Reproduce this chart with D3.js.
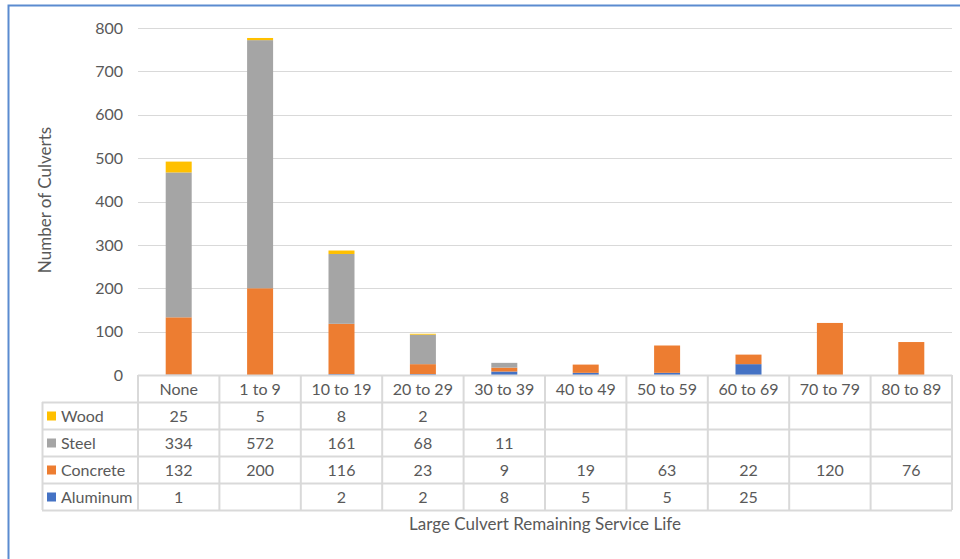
<!DOCTYPE html>
<html>
<head>
<meta charset="utf-8">
<script src="https://cdn.jsdelivr.net/npm/d3@7"></script>
<style>
  html, body { margin: 0; padding: 0; background: #fff; }
  svg { display: block; font-family: Lato, "Open Sans", sans-serif; }
</style>
</head>
<body>
<svg id="chart" width="960" height="559"></svg>
<script>
// Service life bins and counts per culvert material
const categories = ["None", "1 to 9", "10 to 19", "20 to 29", "30 to 39", "40 to 49", "50 to 59", "60 to 69", "70 to 79", "80 to 89"];
const wood     = [25, 5, 8, 2, null, null, null, null, null, null];
const steel    = [334, 572, 161, 68, 11, null, null, null, null, null];
const concrete = [132, 200, 116, 23, 9, 19, 63, 22, 120, 76];
const aluminum = [1, null, 2, 2, 8, 5, 5, 25, null, null];
const yTicks = [0, 100, 200, 300, 400, 500, 600, 700, 800];

// Stacked bottom-to-top: Aluminum, Concrete, Steel, Wood; table lists top-to-bottom
const series = [
  { name: "Aluminum", values: aluminum, color: "#4472C4" },
  { name: "Concrete", values: concrete, color: "#ED7D31" },
  { name: "Steel",    values: steel,    color: "#A5A5A5" },
  { name: "Wood",     values: wood,     color: "#FFC000" }
];

const svg = d3.select("#chart");
const textColor = "#595959";
const gridColor = "#D9D9D9";
const fs = "16px";

// Outer frame
svg.append("rect").attr("x", 8.5).attr("y", 5.5).attr("width", 960).attr("height", 600)
  .attr("fill", "none").attr("stroke", "#5B8BD0").attr("stroke-width", 2);

const plotLeft = 138, plotRight = 952, plotTop = 28, plotBottom = 375;

const x = d3.scaleBand().domain(categories).range([plotLeft, plotRight]).paddingInner(0).paddingOuter(0);
const y = d3.scaleLinear().domain([0, 800]).range([plotBottom, plotTop]);

// Gridlines
svg.append("g").selectAll("line").data(yTicks.filter(t => t > 0)).join("line")
  .attr("x1", plotLeft).attr("x2", plotRight)
  .attr("y1", d => Math.round(y(d)) + 0.5).attr("y2", d => Math.round(y(d)) + 0.5)
  .attr("stroke", gridColor).attr("stroke-width", 1.2);

// Y axis labels
const yAxis = d3.axisLeft(y).tickValues(yTicks).tickSize(0).tickPadding(0);
const gy = svg.append("g").attr("transform", `translate(${plotLeft - 15},0)`).call(yAxis);
gy.select(".domain").remove();
gy.selectAll("text").attr("fill", textColor).style("font-size", fs)
  .style("font-family", "Lato, 'Open Sans', sans-serif");

// Y axis title
svg.append("text").attr("transform", `translate(51,200) rotate(-90)`)
  .attr("text-anchor", "middle").attr("fill", textColor).style("font-size", "17px")
  .text("Number of Culverts");

// Stacked bars
const rows = categories.map((c, i) => {
  const r = { cat: c };
  series.forEach(s => { r[s.name] = s.values[i] || 0; });
  return r;
});
const stacked = d3.stack().keys(series.map(s => s.name))(rows);
const barW = 26;
svg.append("g").selectAll("g").data(stacked).join("g")
  .attr("fill", (d, i) => series[i].color)
  .selectAll("rect").data(d => d).join("rect")
  .attr("x", d => x(d.data.cat) + x.bandwidth() / 2 - barW / 2)
  .attr("width", barW)
  .attr("y", d => y(d[1]))
  .attr("height", d => y(d[0]) - y(d[1]));

// Data table below the plot
const rowH = 27;
const tableTop = plotBottom;
const legendLeft = 42;
const tableRows = series.slice().reverse();
const tg = svg.append("g");
const lineColor = "#D9D9D9";

// Top rule for category header (plot columns only)
tg.append("line").attr("x1", plotLeft).attr("x2", plotRight)
  .attr("y1", tableTop + 0.5).attr("y2", tableTop + 0.5).attr("stroke", lineColor).attr("stroke-width", 2);
for (let r = 1; r <= tableRows.length + 1; r++) {
  const yy = tableTop + r * rowH + 0.5;
  tg.append("line").attr("x1", legendLeft).attr("x2", plotRight)
    .attr("y1", yy).attr("y2", yy).attr("stroke", lineColor).attr("stroke-width", 2);
}
// Vertical rules
tg.append("line").attr("x1", legendLeft + 0.5).attr("x2", legendLeft + 0.5)
  .attr("y1", tableTop + rowH).attr("y2", tableTop + rowH * 5).attr("stroke", lineColor).attr("stroke-width", 2);
categories.concat(["__end"]).forEach((c, i) => {
  const xx = plotLeft + i * x.bandwidth();
  tg.append("line").attr("x1", xx).attr("x2", xx)
    .attr("y1", tableTop).attr("y2", tableTop + rowH * 5).attr("stroke", lineColor).attr("stroke-width", 2);
});

// Category headers
tg.selectAll("text.cat").data(categories).join("text").attr("class", "cat")
  .attr("x", d => x(d) + x.bandwidth() / 2).attr("y", tableTop + rowH / 2 + 6)
  .attr("text-anchor", "middle").attr("fill", textColor).style("font-size", fs)
  .text(d => d);

// Series rows
tableRows.forEach((s, r) => {
  const cy = tableTop + (r + 1) * rowH + rowH / 2;
  tg.append("rect").attr("x", 47).attr("y", cy - 4).attr("width", 9).attr("height", 9).attr("fill", s.color);
  tg.append("text").attr("x", 61).attr("y", cy + 6).attr("fill", textColor).style("font-size", fs).text(s.name);
  tg.selectAll(null).data(categories.map((c, i) => ({ c, v: s.values[i] })).filter(d => d.v != null))
    .join("text")
    .attr("x", d => x(d.c) + x.bandwidth() / 2).attr("y", cy + 6)
    .attr("text-anchor", "middle").attr("fill", textColor).style("font-size", fs)
    .text(d => d.v);
});

// X axis title
svg.append("text").attr("x", (plotLeft + plotRight) / 2).attr("y", 530)
  .attr("text-anchor", "middle").attr("fill", textColor).style("font-size", "17px")
  .text("Large Culvert Remaining Service Life");
</script>
</body>
</html>
